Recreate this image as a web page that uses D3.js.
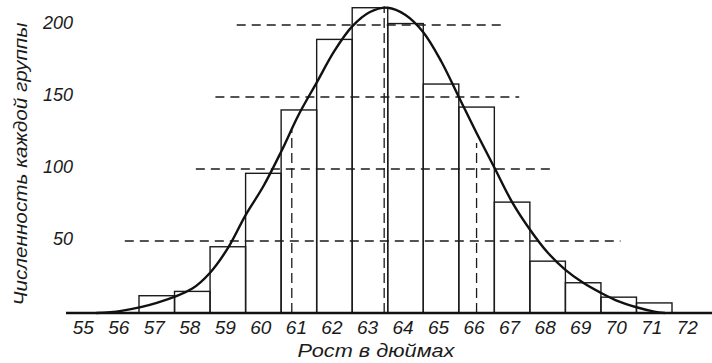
<!DOCTYPE html>
<html>
<head>
<meta charset="utf-8">
<script src="https://cdn.jsdelivr.net/npm/d3@7"></script>
<style>
  body { margin: 0; background: #fff; }
  text { font-family: "Liberation Sans", "DejaVu Sans", sans-serif; font-style: italic; fill: #1b1b1b; }
</style>
</head>
<body>
<svg id="chart" width="712" height="363"></svg>
<script>
// heights by group (inches)
var groups = [57, 58, 59, 60, 61, 62, 63, 64, 65, 66, 67, 68, 69, 70, 71];
var counts = [12, 15, 46, 97, 141, 190, 212, 201, 159, 143, 77, 36, 21, 11, 7];

// fitted curve, points
var curveX = [55.3, 56, 57, 58, 58.5, 59, 59.5, 60, 60.5, 61, 61.5, 62, 62.5, 63, 63.5, 64, 64.5, 65, 65.5, 66, 66.5, 67, 67.5, 68, 68.5, 69, 69.5, 70, 70.5, 71, 71.3];
var curveY = [0, 1.5, 7, 17, 28, 45, 68, 88, 112, 138, 160, 182, 199, 209, 212, 207, 195, 175, 150, 125, 101, 77, 58, 42, 30, 21, 14, 8, 4, 1, 0];

// dashed guides
var levels = [50, 100, 150, 200];
var levelFrom = [56.1, 58.1, 58.65, 59.25];
var levelTo = [70.05, 68.15, 67.2, 66.8];
var markX = [60.8, 63.4, 66.0];
var markTop = [127, 213, 118];

var xTicks = d3.range(55, 73);
var yTicks = [50, 100, 150, 200];

var svg = d3.select("#chart");
var x = d3.scaleLinear().domain([56.5, 71.5]).range([139, 672]);
var y = d3.scaleLinear().domain([0, 200]).range([313, 25]);

// bars
svg.append("g").selectAll("rect").data(groups)
    .enter().append("rect")
    .attr("x", function(d){ return x(d - 0.5); })
    .attr("y", function(d, i){ return y(counts[i]); })
    .attr("width", function(d){ return x(d + 0.5) - x(d - 0.5); })
    .attr("height", function(d, i){ return y(0) - y(counts[i]); })
    .attr("fill", "none")
    .attr("stroke", "#1b1b1b")
    .attr("stroke-width", 1.4);

// horizontal dashed lines
svg.append("g").selectAll("line").data(levels)
    .enter().append("line")
    .attr("x1", function(d, i){ return x(levelFrom[i]); })
    .attr("x2", function(d, i){ return x(levelTo[i]); })
    .attr("y1", function(d){ return y(d); })
    .attr("y2", function(d){ return y(d); })
    .attr("stroke", "#1b1b1b")
    .attr("stroke-width", 1.4)
    .attr("stroke-dasharray", "9,6");

// vertical dashed lines
svg.append("g").selectAll("line").data(markX)
    .enter().append("line")
    .attr("x1", function(d){ return x(d); })
    .attr("x2", function(d){ return x(d); })
    .attr("y1", y(0))
    .attr("y2", function(d, i){ return y(markTop[i]); })
    .attr("stroke", "#1b1b1b")
    .attr("stroke-width", 1.3)
    .attr("stroke-dasharray", "10,5");

// curve
var line = d3.line()
    .x(function(d){ return x(d); })
    .y(function(d, i){ return y(curveY[i]); })
    .curve(d3.curveCatmullRom);
svg.append("path")
    .attr("d", line(curveX))
    .attr("fill", "none")
    .attr("stroke", "#111")
    .attr("stroke-width", 2.4);

// baseline
svg.append("line")
    .attr("x1", 66).attr("x2", 712)
    .attr("y1", y(0)).attr("y2", y(0))
    .attr("stroke", "#111")
    .attr("stroke-width", 2.4);

// axes
var gx = svg.append("g")
    .attr("transform", "translate(-3," + y(0) + ")")
    .call(d3.axisBottom(x).tickValues(xTicks).tickSize(0).tickPadding(8).tickFormat(d3.format("d")));
gx.select(".domain").remove();
gx.selectAll("text").style("font-size", "19px").style("font-family", null);

var gy = svg.append("g")
    .attr("transform", "translate(76,-2)")
    .call(d3.axisLeft(y).tickValues(yTicks).tickSize(0).tickPadding(3));
gy.select(".domain").remove();
gy.selectAll("text").style("font-size", "18px").style("font-family", null);

// titles
svg.append("text")
    .attr("transform", "translate(27,164) rotate(-90)")
    .attr("text-anchor", "middle")
    .attr("textLength", 283)
    .attr("lengthAdjust", "spacingAndGlyphs")
    .style("font-size", "18px")
    .text("Численность каждой группы");

svg.append("text")
    .attr("x", 376)
    .attr("y", 357)
    .attr("text-anchor", "middle")
    .attr("textLength", 157)
    .attr("lengthAdjust", "spacingAndGlyphs")
    .style("font-size", "18px")
    .text("Рост в дюймах");
</script>
</body>
</html>
